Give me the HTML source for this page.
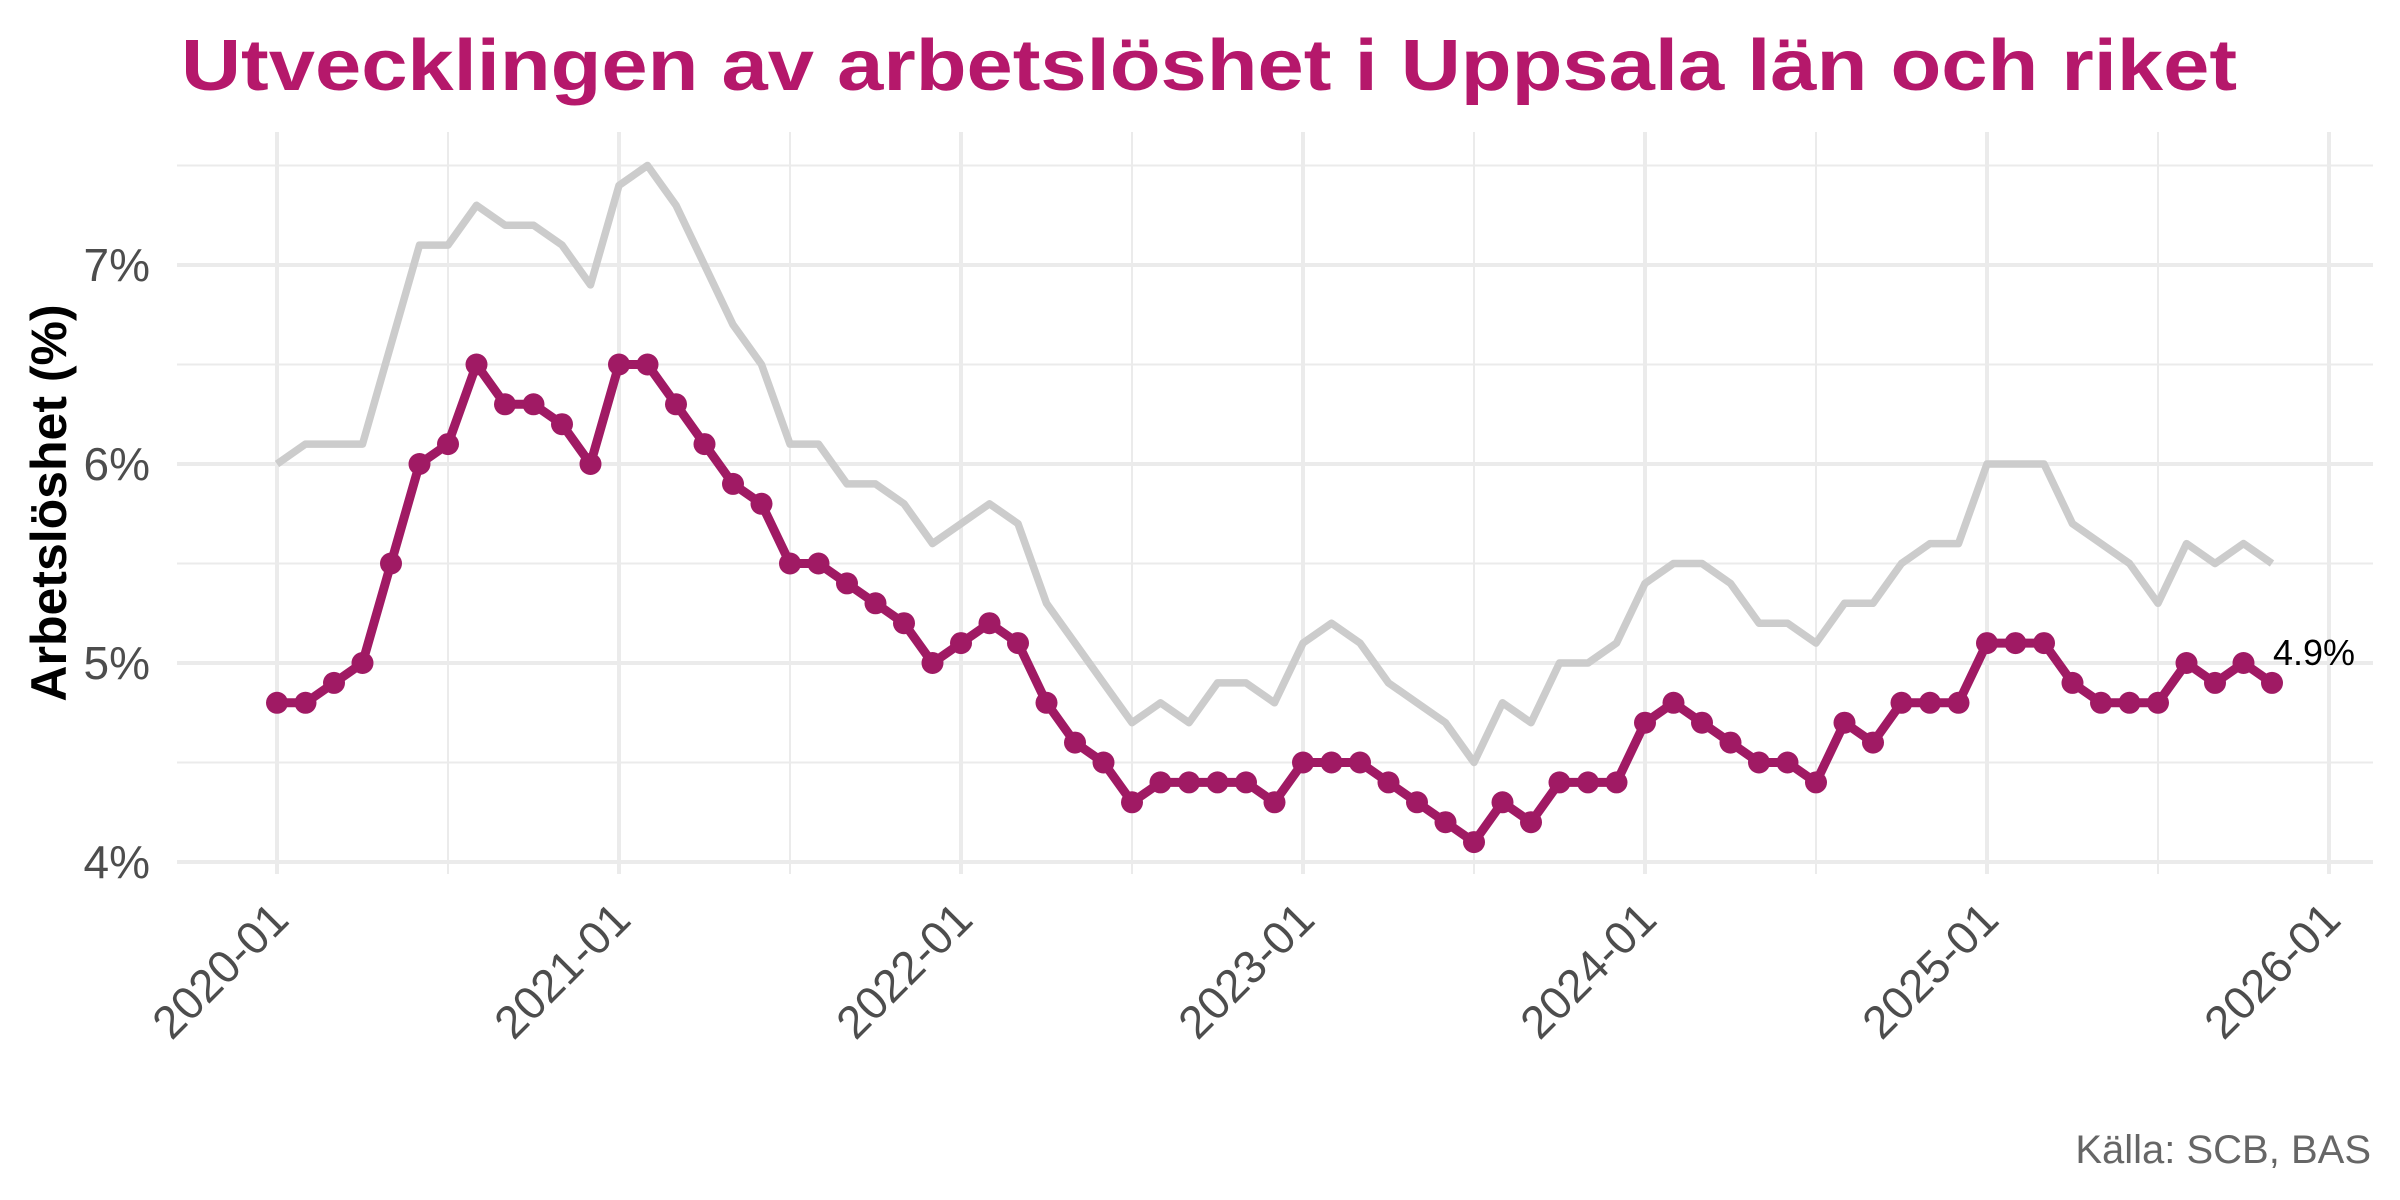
<!DOCTYPE html>
<html><head><meta charset="utf-8"><style>
html,body{margin:0;padding:0;background:#fff;}
svg{display:block;font-family:"Liberation Sans",Arial,sans-serif;}
</style></head><body>
<svg id="c" width="2400" height="1200" viewBox="0 0 2400 1200" xmlns="http://www.w3.org/2000/svg">
<rect width="2400" height="1200" fill="#fff"/>
<g id="grid"></g>
<g id="series"></g>
<text x="181" y="90" font-size="72" font-weight="bold" fill="#b5186b" textLength="2056" lengthAdjust="spacingAndGlyphs">Utvecklingen av arbetslöshet i Uppsala län och riket</text>
<g font-size="46" fill="#4d4d4d" text-anchor="end">
<text x="150" y="281">7%</text>
<text x="150" y="480">6%</text>
<text x="150" y="679">5%</text>
<text x="150" y="878">4%</text>
</g>
<text transform="translate(66,503) rotate(-90)" font-size="50" font-weight="bold" fill="#000" text-anchor="middle">Arbetslöshet (%)</text>
<g id="xl" font-size="46" fill="#4d4d4d" text-anchor="end"></g>
<text x="2273" y="665" font-size="36" fill="#000">4.9%</text>
<text x="2371" y="1163" font-size="40" fill="#666" text-anchor="end">Källa: SCB, BAS</text>
</svg>
<script>
var ns="http://www.w3.org/2000/svg";
function X(i){return 277+i*342/12;}
function Y(v){return 862-(v-4)*199;}
function el(p,t,a){var e=document.createElementNS(ns,t);for(var k in a)e.setAttribute(k,a[k]);p.appendChild(e);return e;}
var g=document.getElementById('grid');
for(var v=4.5;v<=7.5;v+=1)el(g,'line',{x1:177,x2:2373,y1:Y(v),y2:Y(v),stroke:'#ebebeb','stroke-width':2});
for(var y=0;y<6;y++)el(g,'line',{x1:X(y*12+6),x2:X(y*12+6),y1:132,y2:874,stroke:'#ebebeb','stroke-width':2});
for(var v=4;v<=7;v++)el(g,'line',{x1:177,x2:2373,y1:Y(v),y2:Y(v),stroke:'#ebebeb','stroke-width':4});
for(var y=0;y<=6;y++)el(g,'line',{x1:X(y*12),x2:X(y*12),y1:132,y2:874,stroke:'#ebebeb','stroke-width':4});
var xl=document.getElementById('xl');
for(var y=0;y<=6;y++){var x=X(y*12)+14,yy=922;var t=el(xl,'text',{x:x,y:yy,transform:'rotate(-45 '+x+' '+yy+')'});t.textContent=(2020+y)+'-01';}
var nat=[6.0,6.1,6.1,6.1,6.6,7.1,7.1,7.3,7.2,7.2,7.1,6.9,
7.4,7.5,7.3,7.0,6.7,6.5,6.1,6.1,5.9,5.9,5.8,5.6,
5.7,5.8,5.7,5.3,5.1,4.9,4.7,4.8,4.7,4.9,4.9,4.8,
5.1,5.2,5.1,4.9,4.8,4.7,4.5,4.8,4.7,5.0,5.0,5.1,
5.4,5.5,5.5,5.4,5.2,5.2,5.1,5.3,5.3,5.5,5.6,5.6,
6.0,6.0,6.0,5.7,5.6,5.5,5.3,5.6,5.5,5.6,5.5];
var up=[4.8,4.8,4.9,5.0,5.5,6.0,6.1,6.5,6.3,6.3,6.2,6.0,
6.5,6.5,6.3,6.1,5.9,5.8,5.5,5.5,5.4,5.3,5.2,5.0,
5.1,5.2,5.1,4.8,4.6,4.5,4.3,4.4,4.4,4.4,4.4,4.3,
4.5,4.5,4.5,4.4,4.3,4.2,4.1,4.3,4.2,4.4,4.4,4.4,
4.7,4.8,4.7,4.6,4.5,4.5,4.4,4.7,4.6,4.8,4.8,4.8,
5.1,5.1,5.1,4.9,4.8,4.8,4.8,5.0,4.9,5.0,4.9];
var s=document.getElementById('series');
function pts(a){return a.map(function(v,i){return X(i).toFixed(1)+','+Y(v).toFixed(1);}).join(' ');}
el(s,'polyline',{points:pts(nat),fill:'none',stroke:'#cccccc','stroke-width':7.5,'stroke-linejoin':'round'});
el(s,'polyline',{points:pts(up),fill:'none',stroke:'#a01a64','stroke-width':9,'stroke-linejoin':'round'});
up.forEach(function(v,i){el(s,'circle',{cx:X(i),cy:Y(v),r:11,fill:'#a01a64'});});
</script>
</body></html>
